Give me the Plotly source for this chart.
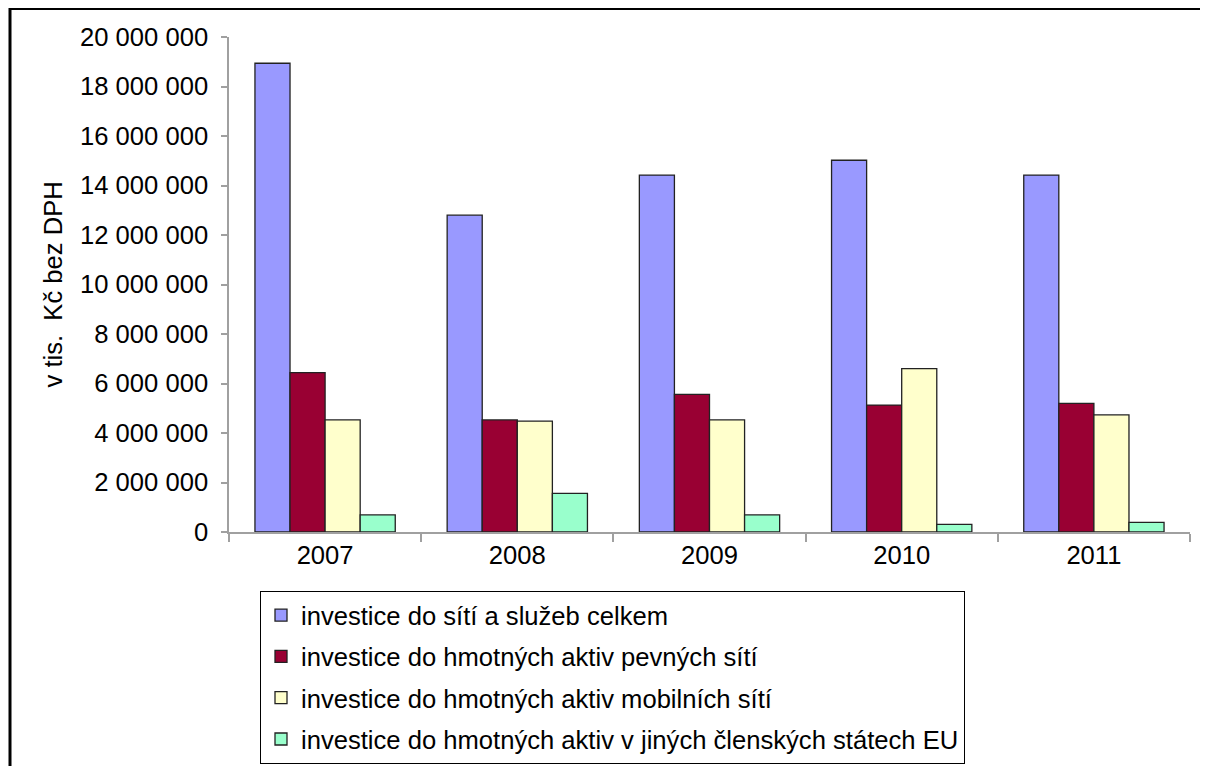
import plotly.graph_objects as go

years = ["2007", "2008", "2009", "2010", "2011"]
series_names = [
    "investice do sítí a služeb celkem",
    "investice do hmotných aktiv pevných sítí",
    "investice do hmotných aktiv mobilních sítí",
    "investice do hmotných aktiv v jiných členských státech EU",
]
celkem = [18940000, 12800000, 14420000, 15020000, 14420000]
pevne = [6440000, 4530000, 5560000, 5130000, 5200000]
mobilni = [4530000, 4480000, 4530000, 6600000, 4730000]
jine_eu = [690000, 1560000, 690000, 310000, 390000]
colors = ["#9999FF", "#990033", "#FFFFCC", "#99FFCC"]
y_ticks = [0, 2000000, 4000000, 6000000, 8000000, 10000000,
           12000000, 14000000, 16000000, 18000000, 20000000]
y_title = "v tis.\u00a0 Kč bez DPH"

FONT = "Liberation Sans, Arial, sans-serif"
FS = 25.6
OFF = 8  # page body margin
W, H = 1208 - OFF, 774 - 2 * OFF
# desired plot area in page pixels
L, R, T, B = 229, 1190, 37, 532

fig = go.Figure()
for i, (name, vals) in enumerate(zip(series_names, [celkem, pevne, mobilni, jine_eu])):
    fig.add_trace(go.Bar(
        x=years, y=vals, name=name,
        legendgroup=f"g{i}",
        marker=dict(color=colors[i], line=dict(color="#222222", width=1.3)),
    ))

def px_to_paper_x(p):
    return (p - L) / (R - L)

def px_to_paper_y(p):
    return (B - p) / (B - T)

frame_line = dict(color="black", width=3)

fig.update_layout(
    width=W, height=H,
    margin=dict(l=L - OFF, r=(W + OFF) - R, t=T - OFF, b=(H + OFF) - B, autoexpand=False),
    paper_bgcolor="white", plot_bgcolor="white",
    barmode="group", bargap=0.27, bargroupgap=0,
    separators=", ",
    font=dict(family=FONT, size=FS, color="black"),
    showlegend=True,
    legend=dict(
        x=px_to_paper_x(260), xanchor="left",
        y=px_to_paper_y(591), yanchor="top",
        bordercolor="black", borderwidth=1,
        bgcolor="white",
        font=dict(family=FONT, size=FS, color="black"),
        traceorder="grouped", tracegroupgap=5,
        itemwidth=30,
    ),
    xaxis=dict(
        showline=True, linecolor="#A0A0A0", linewidth=1.5,
        ticks="outside", tickson="boundaries", ticklen=8, tickcolor="#A0A0A0",
        tickwidth=1.5,
        tickfont=dict(family=FONT, size=FS, color="black"),
        showgrid=False, zeroline=False,
    ),
    yaxis=dict(
        range=[0, 20000000], tickvals=y_ticks, tickformat=",d",
        showline=True, linecolor="#A0A0A0", linewidth=1.5,
        ticks="outside", ticklen=6, tickcolor="#A0A0A0", tickwidth=1.5,
        ticklabelstandoff=8,
        tickfont=dict(family=FONT, size=FS, color="black"),
        showgrid=False, zeroline=False,
    ),
    annotations=[dict(
        text=y_title, xref="paper", yref="paper",
        x=0, y=0.5, xanchor="center", yanchor="middle",
        xshift=52 - L, textangle=-90, showarrow=False,
        font=dict(family=FONT, size=FS, color="black"),
    )],
    shapes=[
        dict(type="line", xref="paper", yref="paper",
             x0=px_to_paper_x(10), x1=px_to_paper_x(1240),
             y0=px_to_paper_y(8.5), y1=px_to_paper_y(8.5),
             line=frame_line, layer="above"),
        dict(type="line", xref="paper", yref="paper",
             x0=px_to_paper_x(10), x1=px_to_paper_x(10),
             y0=px_to_paper_y(7), y1=px_to_paper_y(800),
             line=frame_line, layer="above"),
    ],
)

fig.write_html("out.html")
